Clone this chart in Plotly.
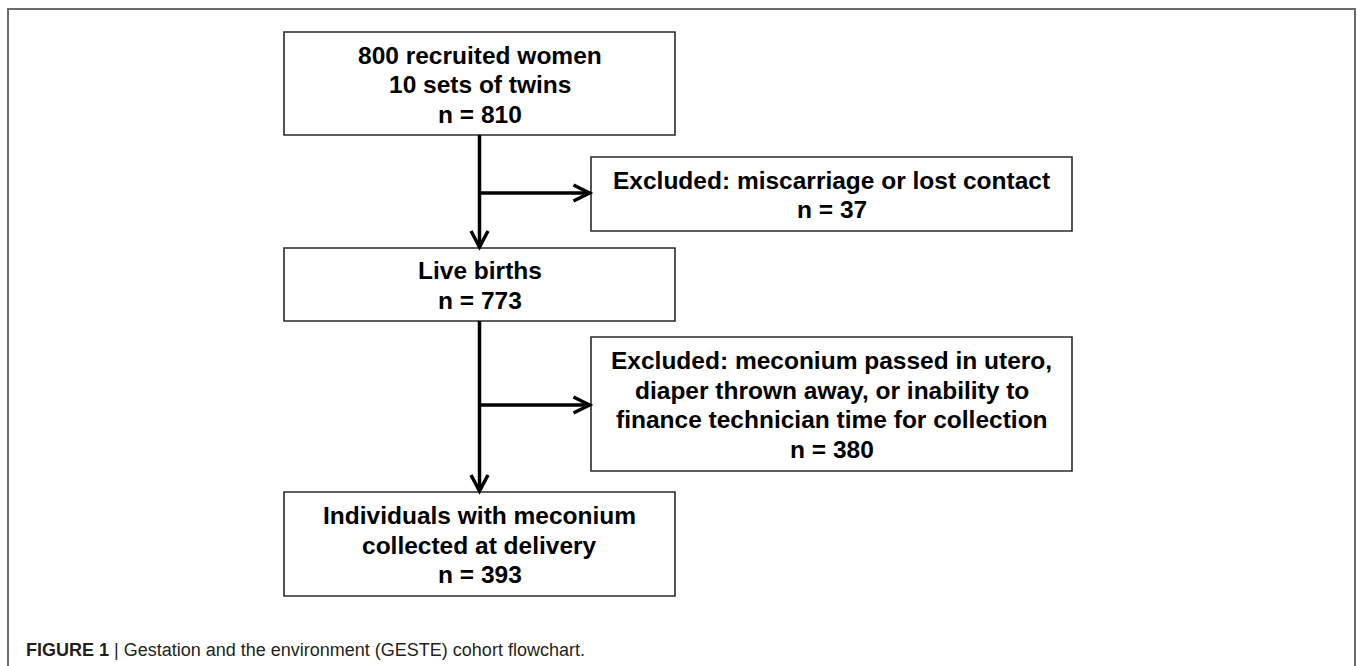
import plotly.graph_objects as go

# ---- content (data) ----
box_lines = [
    ["800 recruited women", "10 sets of twins", "n = 810"],
    ["Excluded: miscarriage or lost contact", "n = 37"],
    ["Live births", "n = 773"],
    ["Excluded: meconium passed in utero,", "diaper thrown away, or inability to",
     "finance technician time for collection", "n = 380"],
    ["Individuals with meconium", "collected at delivery", "n = 393"],
]
caption_bold = "FIGURE 1"
caption_text = "Gestation and the environment (GESTE) cohort flowchart."

# ---- layout geometry (pixels, y downwards) ----
W, H = 1357, 666
box_geom = [  # x0, x1, y0, y1
    (284, 675, 32, 135),
    (591, 1072, 157, 231),
    (284, 675, 248, 321),
    (591, 1072, 337, 471),
    (284, 675, 492, 596),
]
spine_x = 479.5
branch_y = [193, 405]
line_gap = 29.5
FONT = "Liberation Sans, Arial, sans-serif"

fig = go.Figure()
shapes = []
annotations = []

# outer frame (left, top, right)
shapes.append(dict(type="path", xref="x", yref="y",
                   path=f"M 8,{H+5} L 8,9 L 1355,9 L 1355,{H+5}",
                   line=dict(color="#6b6b6b", width=2)))

# boxes and text
for (x0, x1, y0, y1), lines in zip(box_geom, box_lines):
    shapes.append(dict(type="rect", xref="x", yref="y", x0=x0, x1=x1, y0=y0, y1=y1,
                       line=dict(color="#2a2a2a", width=1.6), fillcolor="white", layer="below"))
    cx, cy = (x0 + x1) / 2, (y0 + y1) / 2
    n = len(lines)
    for i, t in enumerate(lines):
        yy = cy + (i - (n - 1) / 2) * line_gap
        annotations.append(dict(x=cx, y=yy + 1, xref="x", yref="y", text=f"<b>{t}</b>",
                                showarrow=False, xanchor="center", yanchor="middle",
                                font=dict(family=FONT, size=24.5, color="black")))

LW = 3.5
ARR = "black"
# vertical spine segments with down arrows
b0, b2, b4 = box_geom[0], box_geom[2], box_geom[4]
for top, bottom in [(b0[3], b2[2]), (b2[3], b4[2])]:
    shapes.append(dict(type="line", xref="x", yref="y", x0=spine_x, x1=spine_x,
                       y0=top, y1=bottom - 1, line=dict(color=ARR, width=LW)))
    tip = bottom - 1
    shapes.append(dict(type="path", xref="x", yref="y",
                       path=f"M {spine_x-8.5},{tip-16} L {spine_x},{tip} L {spine_x+8.5},{tip-16}",
                       line=dict(color=ARR, width=LW)))

# horizontal branches with right arrows
for by, bx in zip(branch_y, [box_geom[1], box_geom[3]]):
    tip = bx[0] - 1.5
    shapes.append(dict(type="line", xref="x", yref="y", x0=spine_x, x1=tip,
                       y0=by, y1=by, line=dict(color=ARR, width=LW)))
    shapes.append(dict(type="path", xref="x", yref="y",
                       path=f"M {tip-16},{by-8} L {tip},{by} L {tip-16},{by+8}",
                       line=dict(color=ARR, width=LW)))

# caption
annotations.append(dict(x=24, y=650, xref="x", yref="y",
                        text=f"<b>{caption_bold}</b> | {caption_text}",
                        showarrow=False, xanchor="left", yanchor="middle",
                        font=dict(family=FONT, size=18, color="#231f20")))

fig.update_layout(
    width=W, height=H,
    margin=dict(l=0, r=0, t=0, b=0),
    paper_bgcolor="white", plot_bgcolor="white",
    xaxis=dict(range=[0, W], visible=False, fixedrange=True),
    yaxis=dict(range=[H, 0], visible=False, fixedrange=True),
    shapes=shapes, annotations=annotations, showlegend=False,
)

fig.write_html("out.html", config={"displayModeBar": False, "staticPlot": True},
               post_script="document.body.style.margin='0';document.body.style.overflow='hidden';")
